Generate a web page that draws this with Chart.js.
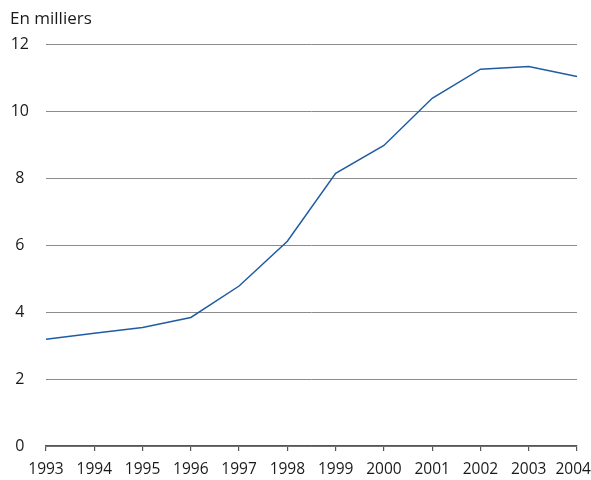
<!DOCTYPE html>
<html>
<head>
<meta charset="utf-8">
<script src="https://cdn.jsdelivr.net/npm/chart.js@4"></script>
<style>
  body { margin: 0; background: #fff; }
  #wrap { width: 591px; height: 480px; }
</style>
</head>
<body>
<div id="wrap"><canvas id="myChart"></canvas></div>
<script>
const years = ['1993', '1994', '1995', '1996', '1997', '1998', '1999', '2000', '2001', '2002', '2003', '2004'];
const values = [3.19, 3.37, 3.54, 3.84, 4.78, 6.12, 8.15, 8.98, 10.39, 11.26, 11.34, 11.04];
const yTicks = [0, 2, 4, 6, 8, 10, 12];

const ctx = document.getElementById('myChart');
const font = { family: 'Open Sans', size: 15.5 };

new Chart(ctx, {
  type: 'line',
  data: {
    labels: years,
    datasets: [
      {
        label: 'En milliers',
        data: values,
        borderColor: '#1f5ca3',
        borderWidth: 1.5,
        pointRadius: 0,
        tension: 0,
        fill: false,
      },
    ],
  },
  options: {
    responsive: true,
    maintainAspectRatio: false,
    animation: false,
    layout: {
      padding: { left: 10, right: 0, top: 0, bottom: 0 },
    },
    plugins: {
      legend: { display: false },
      tooltip: { enabled: false },
      title: {
        display: true,
        text: 'En milliers',
        align: 'start',
        color: '#1a1a1a',
        font: { family: 'Open Sans', size: 17, weight: 'normal' },
        padding: { top: 9, bottom: 15 },
      },
    },
    scales: {
      x: {
        offset: false,
        afterFit: (scale) => {
          scale.paddingRight = 14;
          scale.height = 34;
        },
        grid: {
          drawOnChartArea: false,
          drawTicks: true,
          tickLength: 5,
          color: '#555',
          lineWidth: 1.2,
        },
        border: { display: true, color: '#555', width: 1.5 },
        ticks: {
          color: '#1a1a1a',
          font: font,
          padding: 9,
          maxRotation: 0,
          autoSkip: false,
          // last label sits a bit left of its tick so it fits the page
          callback: (v, i) => (i === years.length - 1 ? years[i] + '\u2002' : years[i]),
        },
      },
      y: {
        min: 0,
        max: 12,
        afterFit: (scale) => { scale.width = 36; },
        afterBuildTicks: (scale) => {
          scale.ticks = yTicks.map((v) => ({ value: v }));
        },
        grid: {
          drawTicks: false,
          color: '#8c8c8c',
          lineWidth: 1,
        },
        border: { display: false },
        ticks: {
          color: '#1a1a1a',
          font: { family: 'Open Sans', size: 16 },
          crossAlign: 'center',
          padding: 17,
        },
      },
    },
  },
});
</script>
</body>
</html>
